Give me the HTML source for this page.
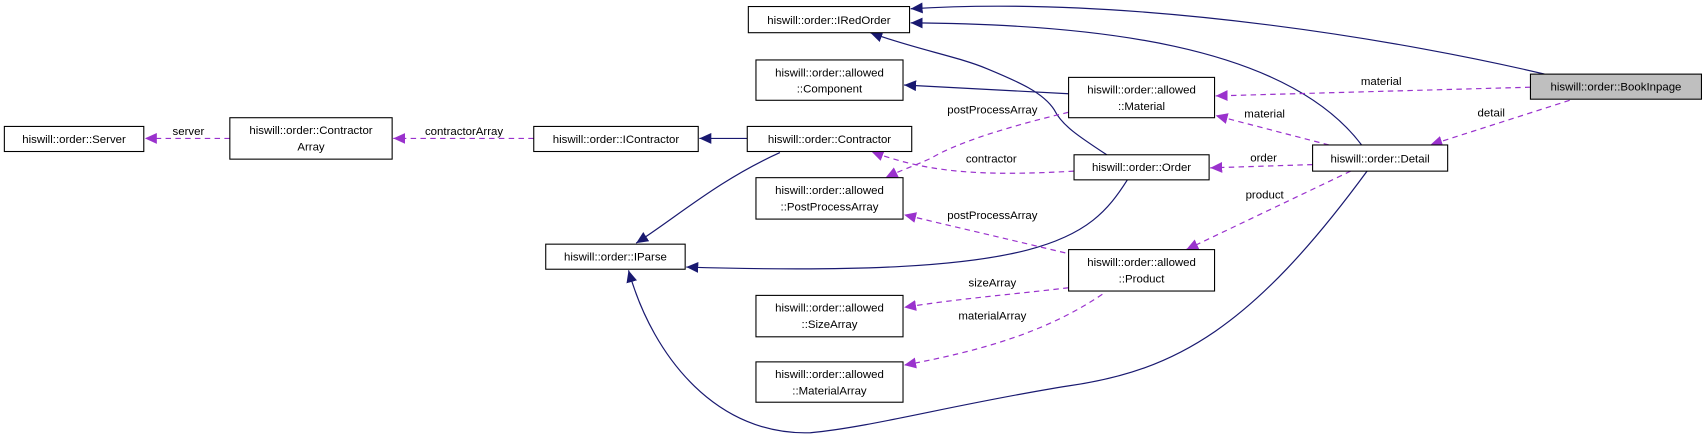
<!DOCTYPE html>
<html><head><meta charset="utf-8"><style>
html,body{margin:0;padding:0;background:#fff;}
svg{display:block;}
text{font-family:"Liberation Sans",sans-serif;font-size:10.5px;fill:#000;}
.b{fill:#fff;stroke:#000;stroke-width:1;}
.s{fill:none;stroke:#191970;stroke-width:1.1;}
.d{fill:none;stroke:#9a32cd;stroke-width:1.1;stroke-dasharray:5,4;}
</style></head><body>
<svg width="1708" height="436" viewBox="0 0 1568 400" preserveAspectRatio="none" xmlns="http://www.w3.org/2000/svg">
<defs>
<marker id="an" markerUnits="userSpaceOnUse" markerWidth="12" markerHeight="10" refX="11" refY="5" orient="auto"><path d="M0,0 L11,5 L0,10 z" fill="#191970"/></marker>
<marker id="ap" markerUnits="userSpaceOnUse" markerWidth="12" markerHeight="10" refX="11" refY="5" orient="auto"><path d="M0,0 L11,5 L0,10 z" fill="#9a32cd"/></marker>
</defs>
<!-- solid edges -->
<path class="s" marker-end="url(#an)" d="M1418,68 C1300,40 1050,-5 836,8"/>
<path class="s" marker-end="url(#an)" d="M1250,133 C1180,40 1000,22 836,21"/>
<path class="s" marker-end="url(#an)" d="M1016,142 C990,125 975,115 968,101 C958,85 935,75 906,63 C880,52 840,45 799,30"/>
<path class="s" marker-end="url(#an)" d="M981,86 L830,78"/>
<path class="s" marker-end="url(#an)" d="M686,127 L642,127"/>
<path class="s" marker-end="url(#an)" d="M716,140 C660,165 620,200 584,223"/>
<path class="s" marker-end="url(#an)" d="M1035,165 C1000,220 960,255 630,245"/>
<path class="s" marker-end="url(#an)" d="M1255,157 C1150,300 1080,340 981,354 C880,370 800,392 744,397 C660,400 600,330 577,248"/>
<!-- dashed edges -->
<path class="d" marker-end="url(#ap)" d="M211,127 L133,127"/>
<path class="d" marker-end="url(#ap)" d="M490,127 L361,127"/>
<path class="d" marker-end="url(#ap)" d="M1405,80 L1116,88"/>
<path class="d" marker-end="url(#ap)" d="M1441,92 L1313,133"/>
<path class="d" marker-end="url(#ap)" d="M1220,133 L1116,106"/>
<path class="d" marker-end="url(#ap)" d="M1205,151 L1111,154"/>
<path class="d" marker-end="url(#ap)" d="M986,157 C900,162 850,158 800,139"/>
<path class="d" marker-end="url(#ap)" d="M981,103 C930,115 880,130 855,145 C840,152 825,157 813,163"/>
<path class="d" marker-end="url(#ap)" d="M1240,157 L1089,229"/>
<path class="d" marker-end="url(#ap)" d="M978,232 L830,197"/>
<path class="d" marker-end="url(#ap)" d="M981,264 C930,270 880,274 830,282"/>
<path class="d" marker-end="url(#ap)" d="M1012,270 C960,305 900,322 830,335"/>
<!-- edge labels -->
<text x="173" y="124" text-anchor="middle">server</text>
<text x="426" y="124" text-anchor="middle">contractorArray</text>
<text x="1268" y="78" text-anchor="middle">material</text>
<text x="1369" y="107" text-anchor="middle">detail</text>
<text x="1161" y="108" text-anchor="middle">material</text>
<text x="1160" y="148" text-anchor="middle">order</text>
<text x="910" y="149" text-anchor="middle">contractor</text>
<text x="911" y="104" text-anchor="middle">postProcessArray</text>
<text x="1161" y="182" text-anchor="middle">product</text>
<text x="911" y="201" text-anchor="middle">postProcessArray</text>
<text x="911" y="263" text-anchor="middle">sizeArray</text>
<text x="911" y="293" text-anchor="middle">materialArray</text>
<!-- nodes -->
<rect class="b" x="687" y="6" width="148" height="24"/><text x="761" y="22" text-anchor="middle">hiswill::order::IRedOrder</text>
<rect class="b" x="694" y="55" width="135" height="37"/><text x="761.5" y="70" text-anchor="middle">hiswill::order::allowed</text><text x="761.5" y="85" text-anchor="middle">::Component</text>
<rect class="b" x="4" y="116" width="128" height="23"/><text x="68" y="131" text-anchor="middle">hiswill::order::Server</text>
<rect class="b" x="211" y="108" width="149" height="38"/><text x="285.5" y="123" text-anchor="middle">hiswill::order::Contractor</text><text x="285.5" y="138" text-anchor="middle">Array</text>
<rect class="b" x="490" y="116" width="151" height="23"/><text x="565.5" y="131" text-anchor="middle">hiswill::order::IContractor</text>
<rect class="b" x="686" y="116" width="151" height="23"/><text x="761.5" y="131" text-anchor="middle">hiswill::order::Contractor</text>
<rect class="b" x="694" y="163" width="135" height="38"/><text x="761.5" y="178" text-anchor="middle">hiswill::order::allowed</text><text x="761.5" y="193" text-anchor="middle">::PostProcessArray</text>
<rect class="b" x="501" y="224" width="128" height="23"/><text x="565" y="239" text-anchor="middle">hiswill::order::IParse</text>
<rect class="b" x="694" y="271" width="135" height="38"/><text x="761.5" y="286" text-anchor="middle">hiswill::order::allowed</text><text x="761.5" y="301" text-anchor="middle">::SizeArray</text>
<rect class="b" x="694" y="332" width="135" height="37"/><text x="761.5" y="347" text-anchor="middle">hiswill::order::allowed</text><text x="761.5" y="362" text-anchor="middle">::MaterialArray</text>
<rect class="b" x="981" y="71" width="134" height="37"/><text x="1048" y="86" text-anchor="middle">hiswill::order::allowed</text><text x="1048" y="101" text-anchor="middle">::Material</text>
<rect class="b" x="986" y="142" width="124" height="23"/><text x="1048" y="157" text-anchor="middle">hiswill::order::Order</text>
<rect class="b" x="1205" y="133" width="124" height="24"/><text x="1267" y="149" text-anchor="middle">hiswill::order::Detail</text>
<rect class="b" x="981" y="229" width="134" height="38"/><text x="1048" y="244" text-anchor="middle">hiswill::order::allowed</text><text x="1048" y="259" text-anchor="middle">::Product</text>
<rect x="1405" y="68" width="157" height="23" fill="#bfbfbf" stroke="#000"/><text x="1483.5" y="83" text-anchor="middle">hiswill::order::BookInpage</text>
</svg>
</body></html>
